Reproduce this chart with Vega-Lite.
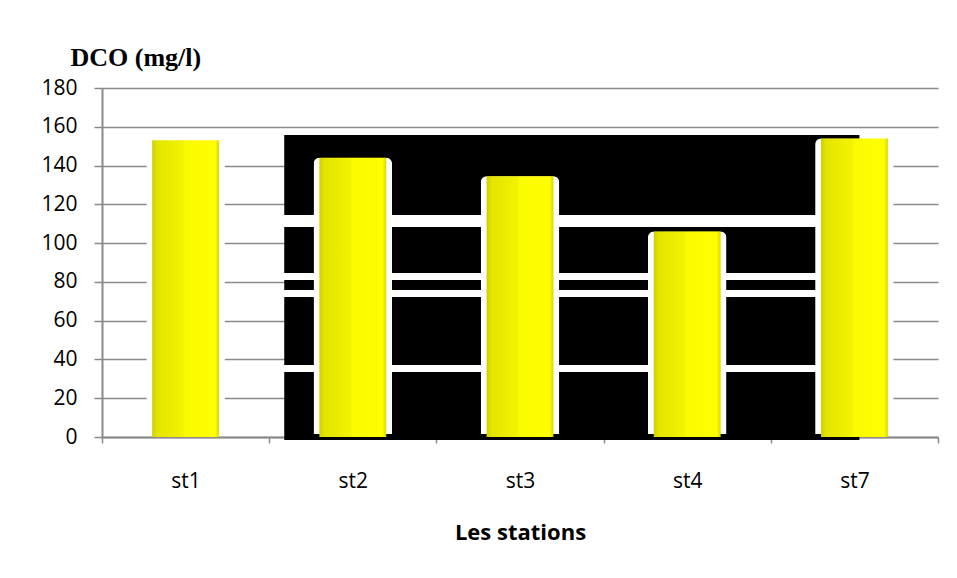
{
  "$schema": "https://vega.github.io/schema/vega-lite/v6.json",
  "width": 836,
  "height": 349,
  "autosize": "none",
  "padding": {"left": 102, "top": 88, "right": 19, "bottom": 141},
  "background": "white",
  "config": {
    "view": {"stroke": null},
    "font": "Open Sans",
    "axisY": {
      "titleFont": "Liberation Serif",
      "titleFontSize": 26,
      "titleFontWeight": "bold",
      "titleColor": "black",
      "titleAngle": 0,
      "titleAlign": "left",
      "titleBaseline": "alphabetic",
      "titleX": -32,
      "titleY": -23,
      "values": [0, 20, 40, 60, 80, 100, 120, 140, 160, 180],
      "grid": true,
      "gridColor": "#8a8a8a",
      "gridWidth": 1.5,
      "domainColor": "#8a8a8a",
      "domainWidth": 2,
      "tickColor": "#8a8a8a",
      "tickWidth": 1.5,
      "tickSize": 8,
      "labelFontSize": 21,
      "labelColor": "black",
      "labelPadding": 17
    },
    "axisX": {
      "titleFontSize": 22,
      "titleFontWeight": "bold",
      "titleColor": "black",
      "titleBaseline": "alphabetic",
      "titleY": 102,
      "labelAngle": 0,
      "labelFontSize": 21,
      "labelColor": "black",
      "labelBaseline": "alphabetic",
      "labelPadding": 44,
      "tickBand": "extent",
      "tickSize": 6,
      "tickColor": "#8a8a8a",
      "tickWidth": 1.5,
      "domainColor": "#8a8a8a",
      "domainWidth": 2,
      "grid": false
    }
  },
  "datasets": {
    "dco": [
      {"station": "st1", "dco": 153},
      {"station": "st2", "dco": 144},
      {"station": "st3", "dco": 134.5},
      {"station": "st4", "dco": 106},
      {"station": "st7", "dco": 154}
    ],
    "fond": [
      {"x0": 1.09, "x1": 4.53, "y0": -1.5, "y1": 33.5},
      {"x0": 1.09, "x1": 4.53, "y0": 37.1, "y1": 72.2},
      {"x0": 1.09, "x1": 4.53, "y0": 75.8, "y1": 81.0},
      {"x0": 1.09, "x1": 4.53, "y0": 84.6, "y1": 108.3},
      {"x0": 1.09, "x1": 4.53, "y0": 114.5, "y1": 155.8}
    ]
  },
  "layer": [
    {
      "data": {"name": "fond"},
      "mark": {"type": "rect", "color": "black"},
      "encoding": {
        "x": {"field": "x0", "type": "quantitative", "scale": {"domain": [0, 5], "nice": false, "zero": false}, "axis": null},
        "x2": {"field": "x1"},
        "y": {"field": "y0", "type": "quantitative", "title": "DCO (mg/l)", "scale": {"domain": [0, 180], "nice": false}},
        "y2": {"field": "y1"}
      }
    },
    {
      "data": {"name": "dco"},
      "mark": {"type": "bar", "color": "white", "width": {"band": 0.47}, "cornerRadiusTopLeft": 6, "cornerRadiusTopRight": 6, "yOffset": -3},
      "encoding": {
        "x": {"field": "station", "type": "nominal", "title": "Les stations", "scale": {"paddingInner": 0, "paddingOuter": 0}},
        "y": {"field": "dco", "type": "quantitative", "title": "DCO (mg/l)"}
      }
    },
    {
      "data": {"name": "dco"},
      "mark": {
        "type": "bar",
        "width": {"band": 0.4},
        "color": {
          "gradient": "linear",
          "x1": 0, "y1": 0, "x2": 1, "y2": 0,
          "stops": [
            {"offset": 0, "color": "#cfcf00"},
            {"offset": 0.08, "color": "#e4e400"},
            {"offset": 0.45, "color": "#f2f200"},
            {"offset": 0.5, "color": "#fbfb00"},
            {"offset": 0.94, "color": "#ffff00"},
            {"offset": 1, "color": "#d8d800"}
          ]
        }
      },
      "encoding": {
        "x": {"field": "station", "type": "nominal", "scale": {"paddingInner": 0, "paddingOuter": 0}, "axis": null},
        "y": {"field": "dco", "type": "quantitative", "title": "DCO (mg/l)"}
      }
    }
  ],
  "resolve": {"scale": {"x": "independent"}, "axis": {"x": "independent"}}
}
